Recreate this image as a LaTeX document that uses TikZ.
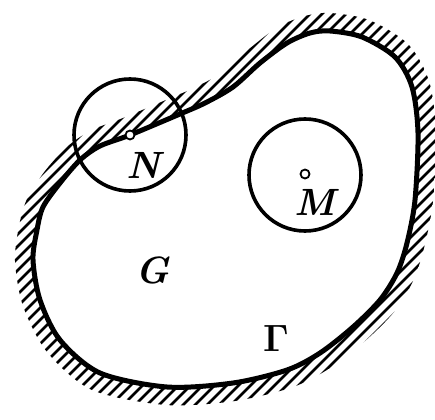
\documentclass[tikz,border=0pt]{standalone}
\usepackage{tikz}

\begin{document}
\begin{tikzpicture}[x=1pt,y=-1pt,
  bound/.style={line width=5pt},
  hatch/.style={line width=2.8pt,line cap=round},
  ring/.style={draw,circle,line width=3.6pt,minimum size=112pt,inner sep=0pt},
  dot/.style={draw,circle,fill=white,line width=1.8pt,minimum size=9pt,inner sep=0pt},
  lbl/.style={font=\fontsize{38}{42}\selectfont\bfseries\itshape}]

\useasboundingbox (0,0) rectangle (435,419);

%------------------------------------------------
% Hatching outside the boundary
%------------------------------------------------

\begin{scope}[even odd rule]
\clip
  plot[smooth cycle] coordinates {(123,118) (173,97) (196,87) (221,73) (249,49)
    (278,27) (305,16) (330,13) (369,20) (408,44) (429,81) (436,133) (433,201)
    (424,248) (413,281) (394,312) (365,341) (330,368) (293,387) (235,401)
    (166,405) (92,390) (47,352) (23,306) (15,261) (19,226) (27,199) (45,171)
    (68,146) (92,130)}
  plot[smooth cycle] coordinates {(130,135) (180,114) (205,103) (233,87) (260,63)
    (287,43) (310,33) (330,31) (362,37) (395,57) (412,87) (418,133) (415,200)
    (407,243) (397,273) (380,300) (353,327) (320,353) (287,370) (233,383)
    (167,387) (100,373) (60,340) (40,300) (33,260) (37,230) (43,207) (60,183)
    (80,160) (100,146)};
\foreach \c in {0,12,...,864}
  \draw[hatch] (\c,0) -- ++(-440,440);
\end{scope}

%------------------------------------------------
% Boundary
%------------------------------------------------

\draw[bound] plot[smooth cycle] coordinates {(130,135) (180,114) (205,103) (233,87)
  (260,63) (287,43) (310,33) (330,31) (362,37) (395,57) (412,87) (418,133)
  (415,200) (407,243) (397,273) (380,300) (353,327) (320,353) (287,370)
  (233,383) (167,387) (100,373) (60,340) (40,300) (33,260) (37,230) (43,207)
  (60,183) (80,160) (100,146)};

%------------------------------------------------
% Circles and points
%------------------------------------------------

\node[ring] (ringN) at (130,135) {};
\node[ring] (ringM) at (305,175) {};

\node[dot] (N) at (130,135) {};
\node[dot] (M) at (305,174) {};

%------------------------------------------------
% Labels
%------------------------------------------------

\node[lbl] (labN) at (144,165) {N};
\node[lbl] (labM) at (315,202) {M};
\node[lbl] (labG) at (153,270) {G};
\node[font=\fontsize{38}{42}\selectfont\bfseries] (labGamma) at (276,339) {Γ};

\end{tikzpicture}
\end{document}
